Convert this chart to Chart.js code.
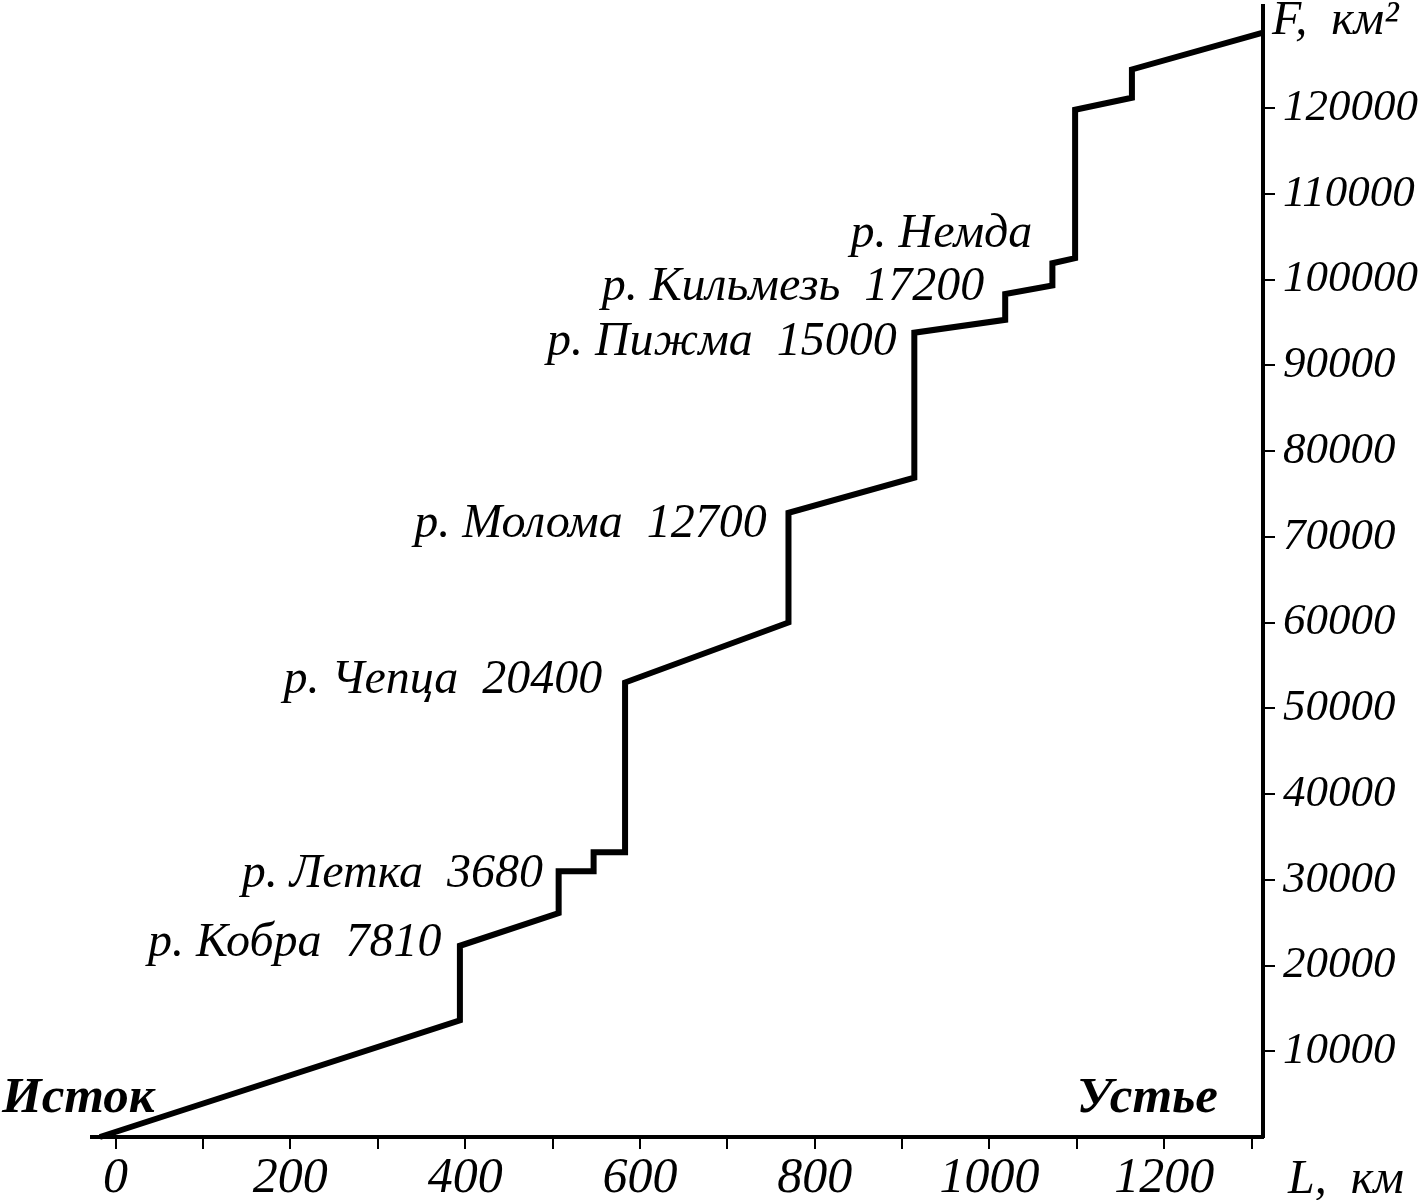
<!DOCTYPE html>
<html>
<head>
<meta charset="utf-8">
<script src="https://cdn.jsdelivr.net/npm/chart.js@4"></script>
<style>
  html, body { margin: 0; padding: 0; background: #fff; }
  canvas { display: block; }
</style>
</head>
<body>
<canvas id="grafico" width="1426" height="1200"></canvas>
<script>
// =============== ДАННЫЕ ===============
// длина от истока L, км и площадь водосбора F, км2 (ступенчатый график)
const distances = [-18, 394, 394, 507, 507, 547, 547, 583, 583, 770, 770, 914, 914, 1018, 1018, 1072, 1072, 1098, 1098, 1163, 1163, 1313];
const areas = [0, 13600, 22300, 26100, 31000, 31000, 33200, 33200, 53000, 60000, 72800, 76900, 93800, 95300, 98300, 99300, 101900, 102500, 119800, 121200, 124500, 128800];

const tributaries = ['р. Кобра  7810', 'р. Летка  3680', 'р. Чепца  20400', 'р. Молома  12700', 'р. Пижма  15000', 'р. Кильмезь  17200', 'р. Немда'];
// привязка подписей (правый край, базовая линия) в единицах осей
const labelL = [373, 489, 557, 745, 894, 994, 1049];
const labelF = [21100, 29100, 51800, 70000, 91200, 97600, 103800];

const xLabelEvery = 200;
const yMaxLabel = 120000;

const FONT = '"Liberation Serif", "Times New Roman", serif';

const points = distances.map((l, i) => ({ x: l, y: areas[i] }));

// без лишних отступов под подписи крайних делений
function noPadding(scale) {
    scale.paddingTop = 0;
    scale.paddingBottom = 0;
    scale.paddingLeft = 0;
    scale.paddingRight = 0;
}

// подписи притоков и осей
const textPlugin = {
    id: 'textPlugin',
    afterDraw(chart) {
        const ctx = chart.ctx;
        const xs = chart.scales.x;
        const ys = chart.scales.y;
        ctx.save();
        ctx.fillStyle = '#000';
        ctx.textBaseline = 'alphabetic';

        ctx.font = 'italic 48px ' + FONT;
        ctx.textAlign = 'right';
        tributaries.forEach((t, i) => {
            ctx.fillText(t, xs.getPixelForValue(labelL[i]), ys.getPixelForValue(labelF[i]));
        });

        ctx.font = 'italic bold 51px ' + FONT;
        ctx.textAlign = 'left';
        ctx.fillText('Исток', 2, 1112);
        ctx.textAlign = 'right';
        ctx.fillText('Устье', 1218, 1112);

        ctx.font = 'italic 48px ' + FONT;
        ctx.textAlign = 'left';
        ctx.fillText('L,  км', 1288, 1193);
        ctx.fillText('F,  км²', 1272, 34);
        ctx.restore();
    }
};

const chart = new Chart(document.getElementById('grafico').getContext('2d'), {
    type: 'scatter',
    data: {
        datasets: [{
            data: points,
            showLine: true,
            borderColor: '#000',
            borderWidth: 6,
            borderJoinStyle: 'miter',
            pointRadius: 0,
            tension: 0,
            clip: false
        }]
    },
    options: {
        responsive: false,
        animation: false,
        layout: { padding: { left: 92, top: 6, right: 0, bottom: 0 } },
        plugins: {
            legend: { display: false },
            tooltip: { enabled: false }
        },
        scales: {
            x: {
                type: 'linear',
                position: 'bottom',
                min: -27,
                max: 1313,
                afterFit(scale) { scale.height = 63; noPadding(scale); },
                border: { display: true, color: '#000', width: 4 },
                grid: { drawOnChartArea: false, drawTicks: true, tickLength: 12, color: '#000', lineWidth: 2 },
                ticks: {
                    stepSize: 100,
                    maxTicksLimit: 40,
                    includeBounds: false,
                    maxRotation: 0,
                    autoSkip: false,
                    padding: 0,
                    color: '#000',
                    font: { family: FONT, size: 50, style: 'italic' },
                    callback: v => (v % xLabelEvery === 0 ? String(v) : '')
                }
            },
            y: {
                type: 'linear',
                position: 'right',
                min: 0,
                suggestedMax: 131900,
                bounds: 'data',
                afterFit(scale) { scale.width = 163; noPadding(scale); },
                border: { display: true, color: '#000', width: 4 },
                grid: { drawOnChartArea: false, drawTicks: true, tickLength: 12, color: '#000', lineWidth: 2 },
                ticks: {
                    stepSize: 10000,
                    maxTicksLimit: 40,
                    includeBounds: false,
                    autoSkip: false,
                    padding: 8,
                    color: '#000',
                    font: { family: FONT, size: 45, style: 'italic' },
                    callback: v => (v === 0 || v > yMaxLabel ? null : String(v))
                }
            }
        }
    },
    plugins: [textPlugin]
});
</script>
</body>
</html>
